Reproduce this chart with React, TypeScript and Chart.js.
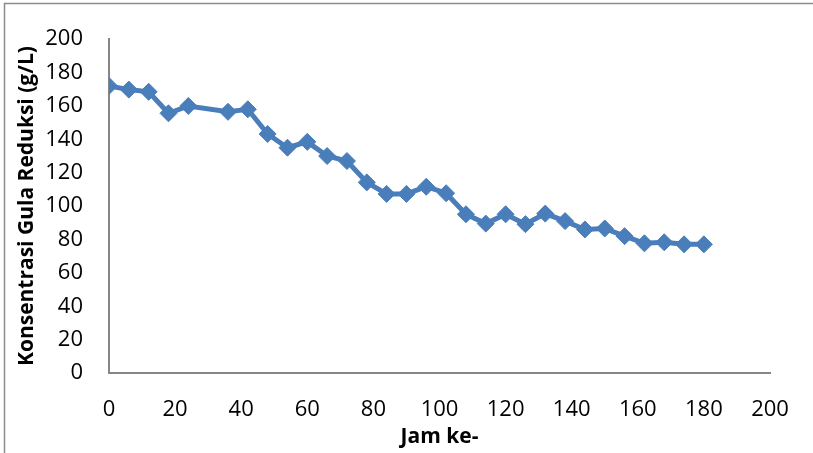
import React, { useEffect, useRef } from "react";
import { Chart, registerables } from "chart.js";

Chart.register(...registerables);

const hours = [0, 6, 12, 18, 24, 36, 42, 48, 54, 60, 66, 72, 78, 84, 90, 96, 102, 108, 114, 120, 126, 132, 138, 144, 150, 156, 162, 168, 174, 180];
const sugar = [172, 169.8, 168.5, 155.6, 160, 156.5, 158, 143.2, 135, 138.5, 130, 127, 114.2, 107.3, 107.3, 111.6, 107.7, 95.1, 89.5, 95.1, 89.2, 95.5, 91, 86, 86.6, 82, 77.7, 78.3, 77.1, 77.1];
const xTitle = "Jam ke-";
const yTitle = "Konsentrasi Gula Reduksi (g/L)";

const FONT = "'Open Sans', 'Noto Sans', sans-serif";
const AXIS_COLOR = "#868686";
const SERIES_COLOR = "#4a7ebb";

const frame = {
  id: "frame",
  beforeDraw(chart: any) {
    const ctx = chart.ctx;
    ctx.save();
    ctx.fillStyle = "#ffffff";
    ctx.fillRect(0, 0, chart.width, chart.height);
    ctx.strokeStyle = "#8c8c8c";
    ctx.lineWidth = 1.5;
    ctx.beginPath();
    ctx.moveTo(4.5, chart.height + 2);
    ctx.lineTo(4.5, 3.5);
    ctx.lineTo(chart.width + 2, 3.5);
    ctx.stroke();
    ctx.restore();
  },
};

export default function App() {
  const ref = useRef<HTMLCanvasElement | null>(null);
  useEffect(() => {
    if (!ref.current) return;
    const chart = new Chart(ref.current, {
      type: "line",
      data: {
        datasets: [
          {
            data: hours.map((h, i) => ({ x: h, y: sugar[i] })),
            borderColor: SERIES_COLOR,
            backgroundColor: SERIES_COLOR,
            borderWidth: 5,
            pointStyle: "rectRot",
            pointRadius: 8.5,
            pointBorderWidth: 1,
            pointBackgroundColor: SERIES_COLOR,
            pointBorderColor: SERIES_COLOR,
            tension: 0,
          },
        ],
      },
      options: {
        animation: false,
        responsive: false,
        maintainAspectRatio: false,
        layout: { padding: { top: 35, right: 43, bottom: 0, left: 0 } },
        plugins: { legend: { display: false }, tooltip: { enabled: false } },
        scales: {
          x: {
            type: "linear",
            min: 0,
            max: 200,
            grid: { display: false, drawTicks: false },
            border: { display: true, color: AXIS_COLOR, width: 2 },
            ticks: {
              stepSize: 20,
              padding: 24,
              color: "#000",
              font: { family: FONT, size: 22 },
              maxRotation: 0,
            },
            title: {
              display: true,
              text: xTitle,
              color: "#000",
              font: { family: FONT, size: 21, weight: "bold" },
              padding: { top: 0, bottom: 3 },
            },
            afterFit: (s: any) => {
              s.height = 80;
            },
          },
          y: {
            min: 0,
            max: 200,
            grid: { display: false, drawTicks: false },
            border: { display: true, color: AXIS_COLOR, width: 2 },
            ticks: {
              stepSize: 20,
              padding: 26,
              color: "#000",
              font: { family: FONT, size: 22 },
            },
            title: {
              display: true,
              text: yTitle,
              color: "#000",
              font: { family: FONT, size: 21, weight: "bold" },
              padding: { top: 14, bottom: 0 },
            },
            afterFit: (s: any) => {
              s.width = 109;
            },
          },
        },
      },
      plugins: [frame],
    });
    return () => chart.destroy();
  }, []);
  return (
    <div style={{ position: "fixed", left: 0, top: 0, width: 813, height: 453 }}>
      <canvas ref={ref} width={813} height={453} style={{ display: "block" }} />
    </div>
  );
}
